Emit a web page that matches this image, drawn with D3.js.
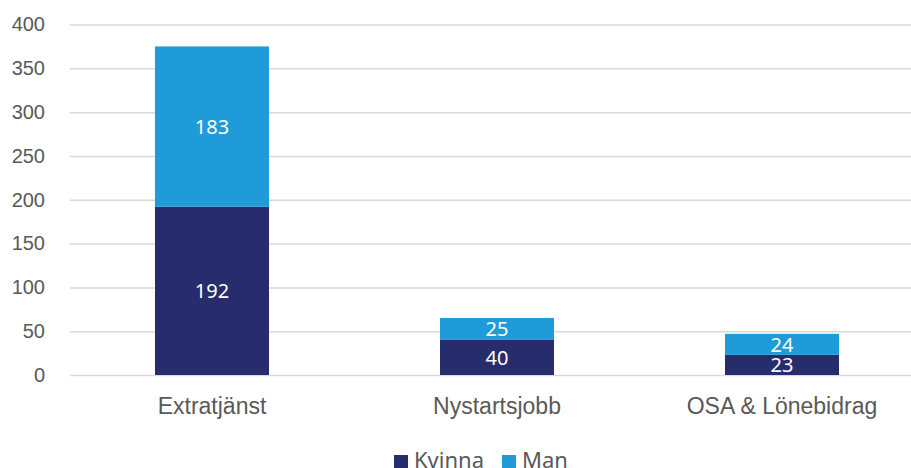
<!DOCTYPE html>
<html><head><meta charset="utf-8">
<script src="https://cdn.jsdelivr.net/npm/d3@7"></script>
<style>body{margin:0;background:#fff}svg{display:block;font-family:"Noto Sans",sans-serif}</style>
</head><body>
<script>
const categories = ["Extratjänst", "Nystartsjobb", "OSA & Lönebidrag"];
const seriesNames = ["Kvinna", "Man"];
const kvinna = [192, 40, 23];
const man = [183, 25, 24];
const yTicks = [0, 50, 100, 150, 200, 250, 300, 350, 400];
const colors = ["#262C6C", "#1E9BD8"];

const W = 911, H = 468;
const svg = d3.select("body").append("svg").attr("width", W).attr("height", H);
const x = d3.scaleBand().domain(categories).range([69.5, 924.5]).paddingInner(0.6).paddingOuter(0.3);
const y = d3.scaleLinear().domain([0, 400]).range([375, 24.5]);

const yAxis = svg.append("g").attr("transform", "translate(70,0)")
  .call(d3.axisLeft(y).tickValues(yTicks).tickSize(-(W - 70)).tickPadding(25));
yAxis.select(".domain").remove();
yAxis.selectAll("line").attr("stroke", "#D9D9D9").attr("stroke-width", 1.5);
yAxis.selectAll("text").attr("fill", "#595959").style("font-size", "20px").style("font-family", "inherit");

const data = categories.map((c, i) => ({cat: c, Kvinna: kvinna[i], Man: man[i]}));
const stacked = d3.stack().keys(seriesNames)(data);
const g = svg.append("g");
stacked.forEach((s, si) => {
  g.selectAll(null).data(s).enter().append("rect")
    .attr("x", d => x(d.data.cat)).attr("width", x.bandwidth())
    .attr("y", d => y(d[1])).attr("height", d => y(d[0]) - y(d[1]))
    .attr("fill", colors[si]);
  g.selectAll(null).data(s).enter().append("text")
    .attr("x", d => x(d.data.cat) + x.bandwidth() / 2)
    .attr("y", d => (y(d[0]) + y(d[1])) / 2)
    .attr("dy", "0.36em").attr("text-anchor", "middle")
    .attr("fill", "#fff").style("font-size", "20px")
    .text(d => d.data[s.key]);
});

const xAxis = svg.append("g").attr("transform", "translate(0,375)")
  .call(d3.axisBottom(x).tickSize(0).tickPadding(23));
xAxis.select(".domain").remove();
xAxis.selectAll("text").attr("fill", "#595959").style("font-size", "23px").style("font-family", "inherit");

const legendX = [394, 502];
const leg = svg.append("g");
seriesNames.forEach((n, i) => {
  leg.append("rect").attr("x", legendX[i]).attr("y", 455).attr("width", 14).attr("height", 14).attr("fill", colors[i]);
  leg.append("text").attr("x", legendX[i] + 20).attr("y", 460).attr("dy", "0.35em")
    .attr("fill", "#595959").style("font-size", "22px").text(n);
});
</script>
</body></html>
